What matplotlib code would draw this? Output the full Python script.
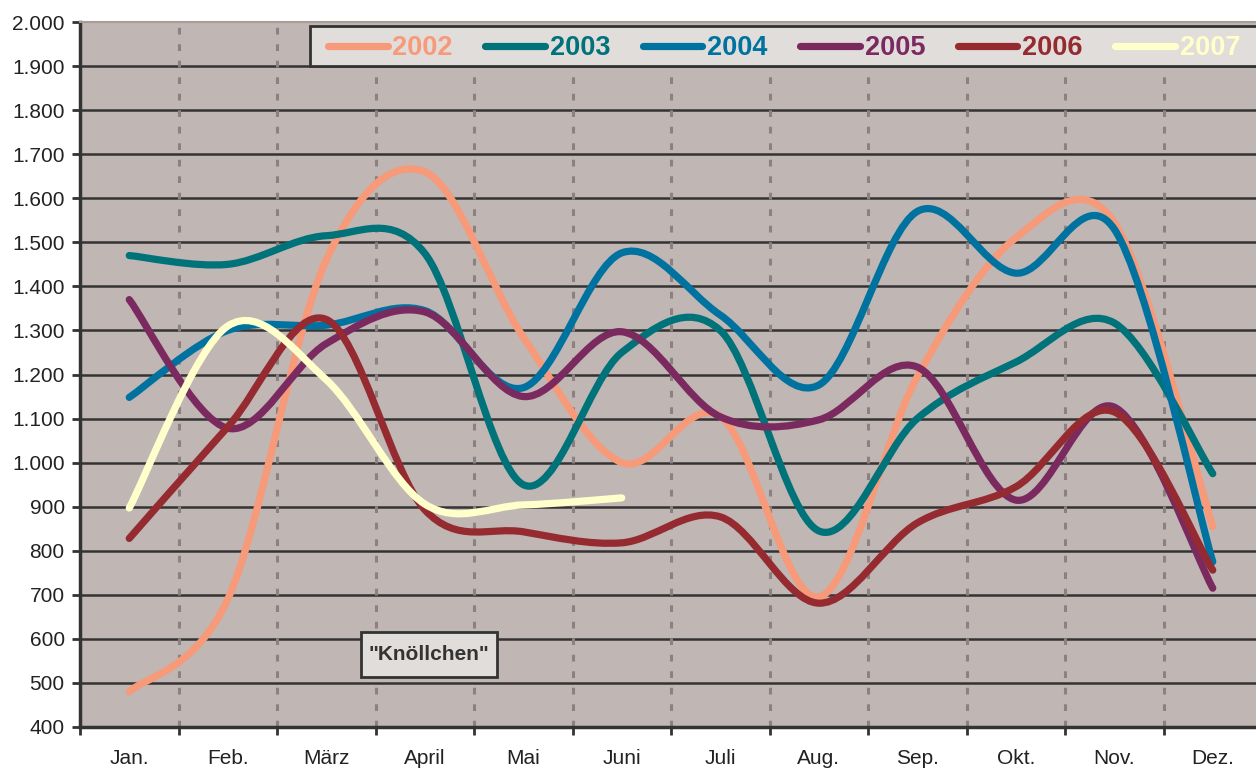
import matplotlib
matplotlib.use("Agg")
import matplotlib.pyplot as plt
from matplotlib.path import Path
from matplotlib.patches import PathPatch, Rectangle
from matplotlib.lines import Line2D
from matplotlib.ticker import FixedLocator, FuncFormatter

plt.rcParams["font.family"] = ["Liberation Sans", "DejaVu Sans"]

# monthly values
months = ["Jan.", "Feb.", "März", "April", "Mai", "Juni",
          "Juli", "Aug.", "Sep.", "Okt.", "Nov.", "Dez."]
years = ["2002", "2003", "2004", "2005", "2006", "2007"]
v2002 = [480, 690, 1460, 1660, 1285, 1000, 1105, 695, 1195, 1510, 1545, 855]
v2003 = [1470, 1450, 1515, 1475, 950, 1250, 1300, 845, 1100, 1228, 1317, 975]
v2004 = [1148, 1300, 1312, 1345, 1170, 1476, 1335, 1176, 1570, 1430, 1530, 775]
v2005 = [1370, 1078, 1270, 1342, 1150, 1297, 1104, 1097, 1217, 915, 1126, 715]
v2006 = [828, 1081, 1325, 893, 843, 818, 877, 681, 863, 945, 1115, 756]
v2007 = [897, 1310, 1188, 906, 904, 920]
series = [v2002, v2003, v2004, v2005, v2006, v2007]
colors = ["#F79A7A", "#00727A", "#0072A0", "#7B2A60", "#952B31", "#FFFFCC"]


def smooth_path(vals):
    # Excel-style smoothed line: cubic bezier segments through each point
    pts = list(enumerate(vals))
    n = len(pts)
    verts = [pts[0]]
    codes = [Path.MOVETO]
    for i in range(n - 1):
        p0 = pts[i - 1] if i > 0 else pts[i]
        p1, p2 = pts[i], pts[i + 1]
        p3 = pts[i + 2] if i + 2 < n else pts[i + 1]
        c1 = (p1[0] + (p2[0] - p0[0]) / 6, p1[1] + (p2[1] - p0[1]) / 6)
        c2 = (p2[0] - (p3[0] - p1[0]) / 6, p2[1] - (p3[1] - p1[1]) / 6)
        verts += [c1, c2, p2]
        codes += [Path.CURVE4] * 3
    return Path(verts, codes)


fig = plt.figure(figsize=(12.56, 7.69), dpi=100)
ax = fig.add_axes([80 / 1256, 42 / 769, 1182 / 1256, 705 / 769])
ax.set_facecolor("#C0B6B3")

ax.set_xlim(-0.5, 11.5)
ax.set_ylim(400, 2000)

# grid
for y in range(500, 2000, 100):
    ax.axhline(y, color="#333333", lw=1.8, zorder=1)
for x in range(1, 12):
    ax.axvline(x - 0.5, color="#8C8080", lw=2.2, ls=(0, (2.2, 3.2)), zorder=1)

for vals, c in zip(series, colors):
    ax.add_patch(PathPatch(smooth_path(vals), fill=False, edgecolor=c,
                           lw=5.2, capstyle="round", joinstyle="round", zorder=3))

# axes styling
ax.xaxis.set_major_locator(FixedLocator([i - 0.5 for i in range(13)]))
ax.xaxis.set_minor_locator(FixedLocator(range(12)))
ax.set_xticklabels([], minor=False)
ax.set_xticklabels(months, minor=True)
ax.tick_params(axis="x", which="major", length=6, width=2, color="#333333")
ax.tick_params(axis="x", which="minor", length=0, pad=16, labelsize=15,
               labelcolor="#222222")
ax.set_yticks(range(400, 2001, 100))
ax.yaxis.set_major_formatter(FuncFormatter(lambda v, p: f"{int(v):,}".replace(",", ".")))
ax.tick_params(axis="y", length=6, width=2, color="#333333", labelsize=15,
               labelcolor="#222222", pad=5)

for s in ["left", "bottom"]:
    ax.spines[s].set_color("#333333")
    ax.spines[s].set_linewidth(2.5)
ax.spines["right"].set_visible(False)
ax.spines["top"].set_color("#A89C98")
ax.spines["top"].set_linewidth(1.5)

# legend with its own frame
ax.add_patch(Rectangle((0.1946, 0.9376), 0.81, 0.0567, transform=ax.transAxes,
                       facecolor="#E1DDDB", edgecolor="#333333", lw=2,
                       clip_on=False, zorder=5))
handles = [Line2D([], [], color=c, lw=5.2, solid_capstyle="round") for c in colors]
leg = ax.legend(handles, years, ncol=6, loc="center left",
                bbox_to_anchor=(0.2098, 0.963), borderaxespad=0, borderpad=0,
                frameon=False, handlelength=2.2, handletextpad=0.18,
                columnspacing=1.2, prop={"weight": "bold", "size": 19.5})
leg.set_zorder(6)
for t, c in zip(leg.get_texts(), colors):
    t.set_color(c)

# "Knöllchen" label box
ax.add_patch(Rectangle((0.2377, 0.0709), 0.1151, 0.0638, transform=ax.transAxes,
                       facecolor="#E1DDDB", edgecolor="#333333", lw=2, zorder=5))
ax.text(0.2953, 0.1028, '"Knöllchen"', transform=ax.transAxes, ha="center",
        va="center", fontsize=15, fontweight="bold", color="#333333", zorder=6)

fig.savefig("out.png", dpi=100)
